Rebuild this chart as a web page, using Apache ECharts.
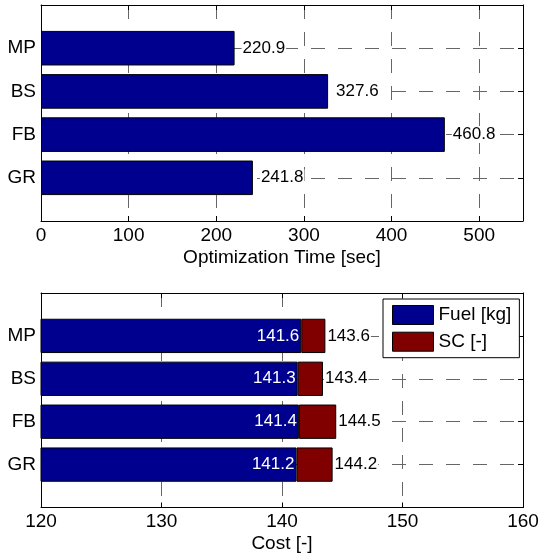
<!DOCTYPE html>
<html>
<head>
<meta charset="utf-8">
<script src="https://cdn.jsdelivr.net/npm/echarts@6/dist/echarts.min.js"></script>
<style>
  html, body { margin: 0; padding: 0; background: #fff; }
  #chart { width: 542px; height: 558px; }
</style>
</head>
<body>
<div id="chart"></div>
<script>
// ---- data (listed top to bottom as in the figure) ----
const categories = ['MP', 'BS', 'FB', 'GR'];
const optTime = [220.9, 327.6, 460.8, 241.8];
const fuel = [141.6, 141.3, 141.4, 141.2];
const sc = [2.0, 2.1, 3.1, 3.0];
const totalCost = [143.6, 143.4, 144.5, 144.2];
const timeTickLabels = [0, 100, 200, 300, 400, 500];
const costTickLabels = [120, 130, 140, 150, 160];

// ---- helpers ----
const FONT = "'Liberation Sans', Arial, Helvetica, sans-serif";
const BLUE = '#00008F';
const RED = '#800000';
// axis categories bottom-to-top, padded with empty slots at each end (ylim 0..5)
const axisCats = [' '].concat(categories.slice().reverse(), ['  ']);
const pad = arr => ['-'].concat(arr.slice().reverse(), ['-']);
const padTotals = pad(totalCost);

const gridLine = {
  show: true, showMinLine: false, showMaxLine: false,
  lineStyle: { color: '#666', width: 1, type: [14, 13] }
};
const axisLineBlack = { show: true, onZero: false, lineStyle: { color: '#000', width: 1 } };
const tickIn = { show: true, inside: true, length: 5, lineStyle: { color: '#000', width: 1 } };

function valueAxes(gridIndex, min, max, interval, tickLabels, name, nameGap) {
  return [
    {
      type: 'value', gridIndex, position: 'bottom', min, max, interval,
      axisLine: axisLineBlack, axisTick: tickIn,
      axisLabel: {
        show: true, margin: 5, color: '#000', fontSize: 19, fontFamily: FONT,
        formatter: v => (tickLabels.indexOf(v) >= 0 ? String(v) : '')
      },
      splitLine: gridLine,
      name, nameLocation: 'middle', nameGap,
      nameTextStyle: { color: '#000', fontSize: 19, fontFamily: FONT }
    },
    {
      type: 'value', gridIndex, position: 'top', min, max, interval,
      axisLine: axisLineBlack, axisTick: tickIn,
      axisLabel: { show: false }, splitLine: { show: false }
    }
  ];
}

function catAxes(gridIndex) {
  return [
    {
      type: 'category', gridIndex, position: 'left', data: axisCats, boundaryGap: false,
      axisLine: axisLineBlack, axisTick: tickIn,
      axisLabel: {
        show: true, margin: 5, color: '#000', fontSize: 19, fontFamily: FONT,
        padding: [4, 0, 0, 0],
        formatter: v => (categories.indexOf(v) >= 0 ? v : '')
      },
      splitLine: gridLine
    },
    {
      type: 'category', gridIndex, position: 'right', data: axisCats, boundaryGap: false,
      axisLine: axisLineBlack, axisTick: tickIn,
      axisLabel: { show: false }, splitLine: { show: false }
    }
  ];
}

const chart = echarts.init(document.getElementById('chart'), null, { renderer: 'canvas' });

const option = {
  animation: false,
  backgroundColor: '#fff',
  textStyle: { fontFamily: FONT },
  grid: [
    { left: 41, top: 5, width: 482, height: 216, containLabel: false },
    { left: 41, top: 293, width: 482, height: 214.5, containLabel: false }
  ],
  xAxis: [].concat(
    valueAxes(0, 0, 550, 100, timeTickLabels, 'Optimization Time [sec]', 27),
    valueAxes(1, 120, 160, 10, costTickLabels, 'Cost [-]', 27)
  ),
  yAxis: [].concat(catAxes(0), catAxes(1)),
  legend: {
    data: ['Fuel [kg]', 'SC [-]'],
    orient: 'vertical', left: 383, top: 299,
    itemWidth: 41, itemHeight: 19, itemGap: 6.7,
    padding: [6, 8, 6, 9],
    borderColor: '#000', borderWidth: 1, borderRadius: 0, backgroundColor: '#fff',
    icon: 'rect',
    itemStyle: { borderColor: '#000', borderWidth: 1 },
    textStyle: { color: '#000', fontSize: 19, fontFamily: FONT },
    selectedMode: false
  },
  series: [
    {
      name: 'Optimization Time', type: 'bar', xAxisIndex: 0, yAxisIndex: 0,
      barWidth: '80%', data: pad(optTime),
      itemStyle: { color: BLUE, borderColor: '#000', borderWidth: 1 },
      label: {
        show: true, position: 'right', distance: 7,
        color: '#000', fontSize: 17, fontFamily: FONT,
        backgroundColor: '#fff', padding: [0, 1],
        formatter: p => Number(p.value).toFixed(1)
      }
    },
    {
      name: 'Fuel [kg]', type: 'bar', xAxisIndex: 2, yAxisIndex: 2, stack: 'cost',
      barWidth: '80%', data: pad(fuel),
      itemStyle: { color: BLUE, borderColor: '#000', borderWidth: 1 },
      label: {
        show: true, position: 'insideRight', distance: 2,
        color: '#fff', fontSize: 17, fontFamily: FONT,
        formatter: p => Number(p.value).toFixed(1)
      }
    },
    {
      name: 'SC [-]', type: 'bar', xAxisIndex: 2, yAxisIndex: 2, stack: 'cost',
      barWidth: '80%', data: pad(sc),
      itemStyle: { color: RED, borderColor: '#000', borderWidth: 1 },
      label: {
        show: true, position: 'right', distance: 1,
        color: '#000', fontSize: 17, fontFamily: FONT,
        backgroundColor: '#fff', padding: [0, 1],
        formatter: p => Number(padTotals[p.dataIndex]).toFixed(1)
      }
    }
  ]
};
chart.setOption(option);
</script>
</body>
</html>
